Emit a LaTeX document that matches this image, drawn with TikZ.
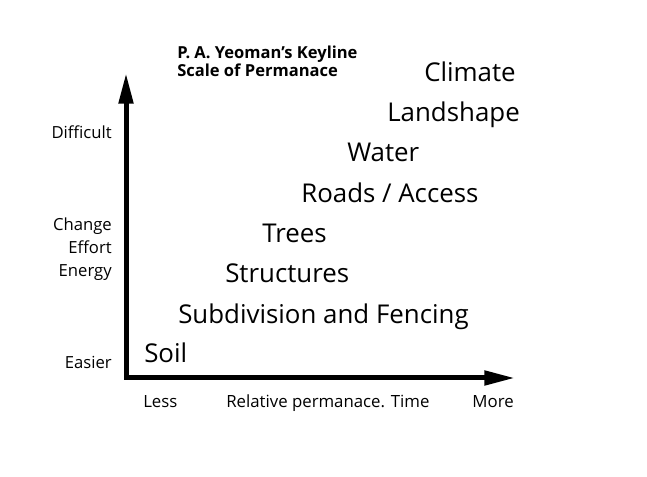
\documentclass[tikz,border=0pt]{standalone}
\usepackage{fontspec}
\setmainfont{Open Sans}
\usetikzlibrary{arrows.meta}

\begin{document}
\begin{tikzpicture}[x=0.75pt, y=-0.75pt,
  item/.style={anchor=base west, inner sep=0pt, font=\fontsize{19.4}{22}\selectfont},
  side/.style={anchor=base east, inner sep=0pt, font=\fontsize{12.5}{14}\selectfont},
  foot/.style={anchor=base west, inner sep=0pt, font=\fontsize{12.6}{14}\selectfont},
  axis/.style={line width=3.75pt, line join=miter, {Triangle[length=23pt, width=10.5pt]}-{Triangle[length=23pt, width=10.5pt]}}]
\useasboundingbox (0,0) rectangle (647,477);
% axes
\coordinate (O) at (126,378);
\coordinate (Ytip) at (126,73);
\coordinate (Xtip) at (515,378);
\draw[axis] (Ytip) -- (O) -- (Xtip);
% title
\node[anchor=base west, inner sep=0pt, align=left, font=\fontsize{12.4}{13.5}\selectfont\bfseries] (title) at (177,77)
  {P. A. Yeoman's Keyline\\Scale of Permanace};
% items on the scale
\node[item] (soil) at (144,363) {Soil};
\node[item] (fence) at (178,324) {Subdivision and Fencing};
\node[item] (struct) at (225,283) {Structures};
\node[item] (trees) at (262,243) {Trees};
\node[item] (roads) at (301,203) {Roads / Access};
\node[item] (water) at (347,162) {Water};
\node[item] (land) at (387,122) {Landshape};
\node[item] (climate) at (424,82) {Climate};
% y axis labels
\node[side] (difficult) at (112,139) {Difficult};
\node[side] (change) at (112,231) {Change};
\node[side] (effort) at (112,254) {Effort};
\node[side] (energy) at (112,277) {Energy};
\node[side] (easier) at (112,369) {Easier};
% x axis labels
\node[foot] (less) at (143,408) {Less};
\node[foot] (time) at (226,408) {Relative permanace. Time};
\node[anchor=base east, inner sep=0pt, font=\fontsize{12.6}{14}\selectfont] (more) at (514,408) {More};
\end{tikzpicture}
\end{document}
